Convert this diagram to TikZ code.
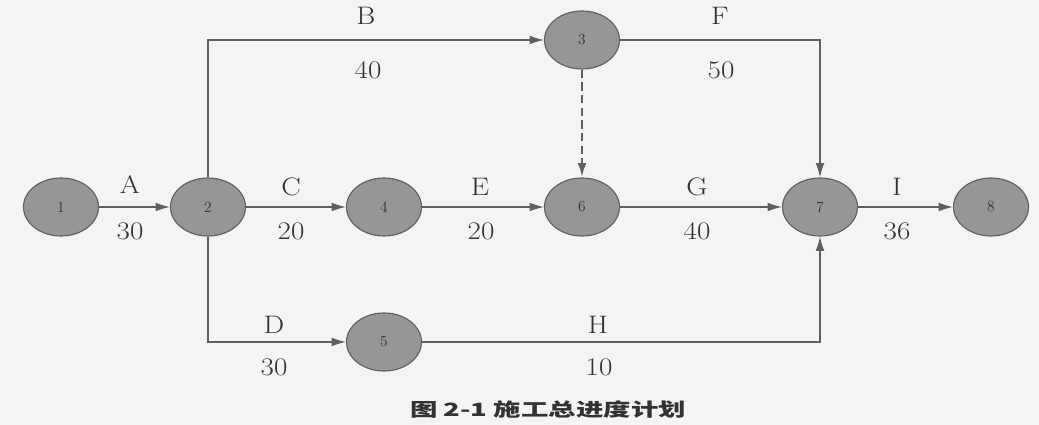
\documentclass[tikz,border=0pt]{standalone}
\usepackage{fontspec}
\newfontfamily\cjk{Noto Sans CJK SC}
\usetikzlibrary{arrows.meta,shapes.geometric}
\definecolor{evfill}{RGB}{150,150,150}
\definecolor{evline}{RGB}{95,95,95}
\definecolor{linegray}{RGB}{95,95,95}
\definecolor{txtgray}{RGB}{50,50,50}
\definecolor{paper}{RGB}{244,244,244}
\begin{document}
\begin{tikzpicture}[x=0.025cm,y=-0.025cm,
  event/.style={draw=evline,fill=evfill,shape=ellipse,minimum width=1.875cm,minimum height=1.45cm,inner sep=0pt,line width=0.8pt,font=\fontsize{11}{12}\selectfont,text=txtgray},
  act/.style={draw=linegray,line width=0.9pt,-{Latex[length=3.6mm,width=2.2mm]}},
  lbl/.style={font=\fontsize{18}{20}\selectfont,text=txtgray,xscale=1.15}]

\fill[paper] (0,0) rectangle (1039,425);
\useasboundingbox (0,0) rectangle (1039,425);

%events
\node[event] (n1) at (61,207) {1};
\node[event] (n2) at (208,207) {2};
\node[event] (n3) at (582,40) {3};
\node[event] (n4) at (384,207) {4};
\node[event] (n5) at (384,342) {5};
\node[event] (n6) at (582,207) {6};
\node[event] (n7) at (820,207) {7};
\node[event] (n8) at (991,207) {8};

%activities
\path (n1) edge [act] (n2);
\draw [act] (n2) |- (n3);
\path (n2) edge [act] (n4);
\draw [act] (n2) |- (n5);
\path (n4) edge [act] (n6);
\draw [act] (n3) -| (n7);
\path (n3) edge [act,line width=1.8pt,dash pattern=on 6pt off 3pt] (n6);
\path (n6) edge [act] (n7);
\draw [act] (n5) -| (n7);
\path (n7) edge [act] (n8);

%labels
\node[lbl] (lA) at (130,185) {A};
\node[lbl] (tA) at (130,231) {30};
\node[lbl] (lB) at (366,16) {B};
\node[lbl] (tB) at (368,70) {40};
\node[lbl] (lC) at (291,187) {C};
\node[lbl] (tC) at (291,231) {20};
\node[lbl] (lD) at (274,325) {D};
\node[lbl] (tD) at (274,367) {30};
\node[lbl] (lE) at (480,187) {E};
\node[lbl] (tE) at (481,231) {20};
\node[lbl] (lF) at (720,16) {F};
\node[lbl] (tF) at (721,70) {50};
\node[lbl] (lG) at (697,187) {G};
\node[lbl] (tG) at (697,231) {40};
\node[lbl] (lH) at (598,325) {H};
\node[lbl] (tH) at (599,367) {10};
\node[lbl] (lI) at (897,187) {I};
\node[lbl] (tI) at (897,231) {36};

%caption
\node[font=\cjk\bfseries\fontsize{13}{15}\selectfont,text=txtgray,xscale=1.5] (cap) at (548,410) {图 2-1 施工总进度计划};
\end{tikzpicture}
\end{document}
